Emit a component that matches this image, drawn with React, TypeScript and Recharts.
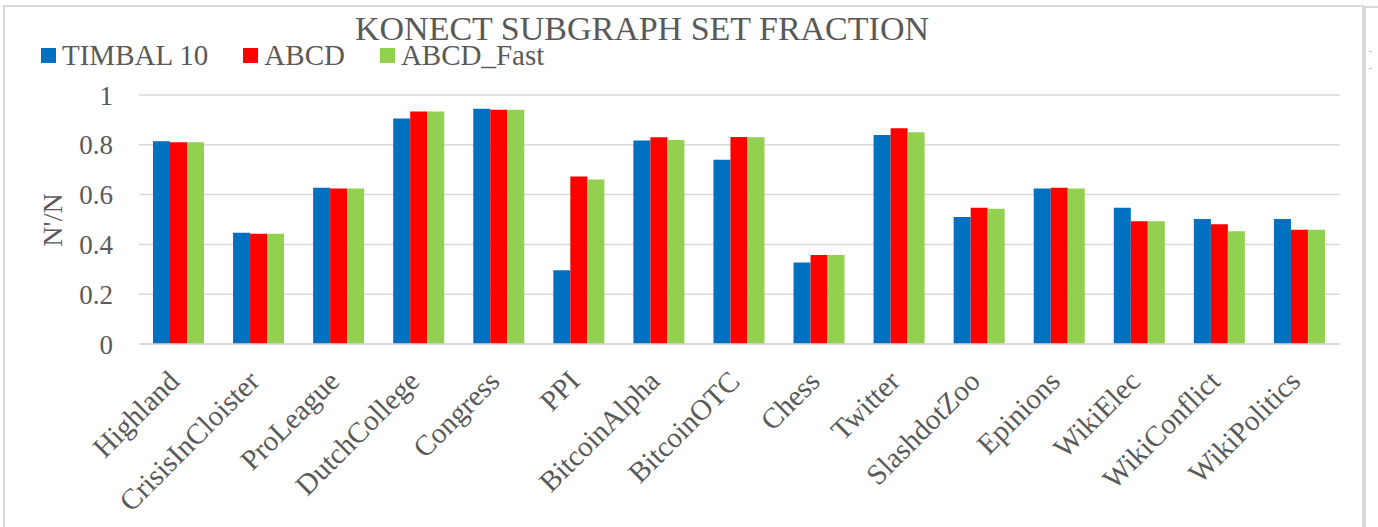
import { BarChart, Bar, XAxis, YAxis, CartesianGrid } from 'recharts';

const datasets = [
  'Highland', 'CrisisInCloister', 'ProLeague', 'DutchCollege', 'Congress',
  'PPI', 'BitcoinAlpha', 'BitcoinOTC', 'Chess', 'Twitter',
  'SlashdotZoo', 'Epinions', 'WikiElec', 'WikiConflict', 'WikiPolitics',
];

const timbal10 = [0.814, 0.447, 0.628, 0.906, 0.945, 0.296, 0.817, 0.74, 0.327, 0.839, 0.51, 0.624, 0.547, 0.502, 0.502];
const abcd = [0.81, 0.443, 0.624, 0.934, 0.941, 0.673, 0.83, 0.831, 0.357, 0.866, 0.547, 0.628, 0.493, 0.481, 0.459];
const abcdFast = [0.81, 0.443, 0.624, 0.934, 0.941, 0.661, 0.819, 0.83, 0.357, 0.85, 0.543, 0.624, 0.493, 0.453, 0.459];

const yTicks = [0, 0.2, 0.4, 0.6, 0.8, 1];

const series = [
  { key: 'timbal', name: 'TIMBAL 10', color: '#0070C0' },
  { key: 'abcd', name: 'ABCD', color: '#FF0000' },
  { key: 'abcdFast', name: 'ABCD_Fast', color: '#92D050' },
];

const chartData = datasets.map((name, i) => ({
  name,
  timbal: timbal10[i],
  abcd: abcd[i],
  abcdFast: abcdFast[i],
}));

const FONT = "'Liberation Serif', 'Times New Roman', serif";
const TEXT = '#595959';
const GRID = '#d9d9d9';

// rotated category labels, end of text sits under the group
const SlantTick = (props: any) => {
  const { x, y, payload } = props;
  const ax = x + 2;
  const ay = y + 39;
  return (
    <text
      x={ax}
      y={ay}
      transform={`rotate(-45, ${ax}, ${ay})`}
      textAnchor="end"
      fill={TEXT}
      fontSize={29}
      fontFamily={FONT}
    >
      {payload.value}
    </text>
  );
};

const App = () => {
  return (
    <div style={{ position: 'absolute', left: 0, top: 0, width: 1378, height: 527, background: '#fff', overflow: 'hidden' }}>
      {/* chart frame */}
      <div style={{ position: 'absolute', left: 3, top: 5, width: 1357, height: 540, borderLeft: `2px solid ${GRID}`, borderTop: `2px solid ${GRID}`, borderRight: `2px solid ${GRID}` }} />
      <div style={{ position: 'absolute', left: 1364, top: 6, width: 14, height: 540, borderLeft: `2px solid ${GRID}`, borderTop: `2px solid ${GRID}` }} />
      <div style={{ position: 'absolute', left: 1369, top: 51, width: 3, height: 1, background: '#bbb' }} />
      <div style={{ position: 'absolute', left: 1369, top: 68, width: 3, height: 1, background: '#bbb' }} />

      <BarChart
        width={1378}
        height={527}
        data={chartData}
        margin={{ top: 95, right: 38, left: 0, bottom: 33 }}
        barCategoryGap={14}
        barGap={0}
      >
        <CartesianGrid vertical={false} stroke={GRID} strokeWidth={1.5} />
        <XAxis
          dataKey="name"
          height={150}
          axisLine={{ stroke: GRID, strokeWidth: 1.5 }}
          tickLine={false}
          tickSize={0}
          tickMargin={0}
          interval={0}
          tick={<SlantTick />}
        />
        <YAxis
          width={139}
          domain={[0, 1]}
          ticks={yTicks}
          axisLine={false}
          tickLine={false}
          tickSize={0}
          tickMargin={26}
          tick={{ fill: TEXT, fontSize: 27, fontFamily: FONT }}
        />
        {series.map((s) => (
          <Bar key={s.key} dataKey={s.key} name={s.name} fill={s.color} isAnimationActive={false} />
        ))}
      </BarChart>

      {/* title */}
      <div style={{ position: 'absolute', left: 342, top: 15, width: 600, textAlign: 'center', fontFamily: FONT, fontSize: 34, color: TEXT, lineHeight: '28px', whiteSpace: 'nowrap' }}>
        KONECT SUBGRAPH SET FRACTION
      </div>

      {/* legend */}
      <div style={{ position: 'absolute', left: 41, top: 44, display: 'flex', alignItems: 'center', fontFamily: FONT, fontSize: 29, color: TEXT, lineHeight: '22px' }}>
        {series.map((s) => (
          <div key={s.key} style={{ display: 'flex', alignItems: 'center', marginRight: 35 }}>
            <span style={{ width: 15, height: 15, background: s.color, marginRight: 6, display: 'inline-block' }} />
            <span>{s.name}</span>
          </div>
        ))}
      </div>

      {/* y axis title */}
      <div style={{ position: 'absolute', left: 53, top: 220, transform: 'translate(-50%, -50%) rotate(-90deg)', fontFamily: FONT, fontSize: 28, color: TEXT, lineHeight: '30px', whiteSpace: 'nowrap' }}>
        N'/N
      </div>
    </div>
  );
};

export default App;
